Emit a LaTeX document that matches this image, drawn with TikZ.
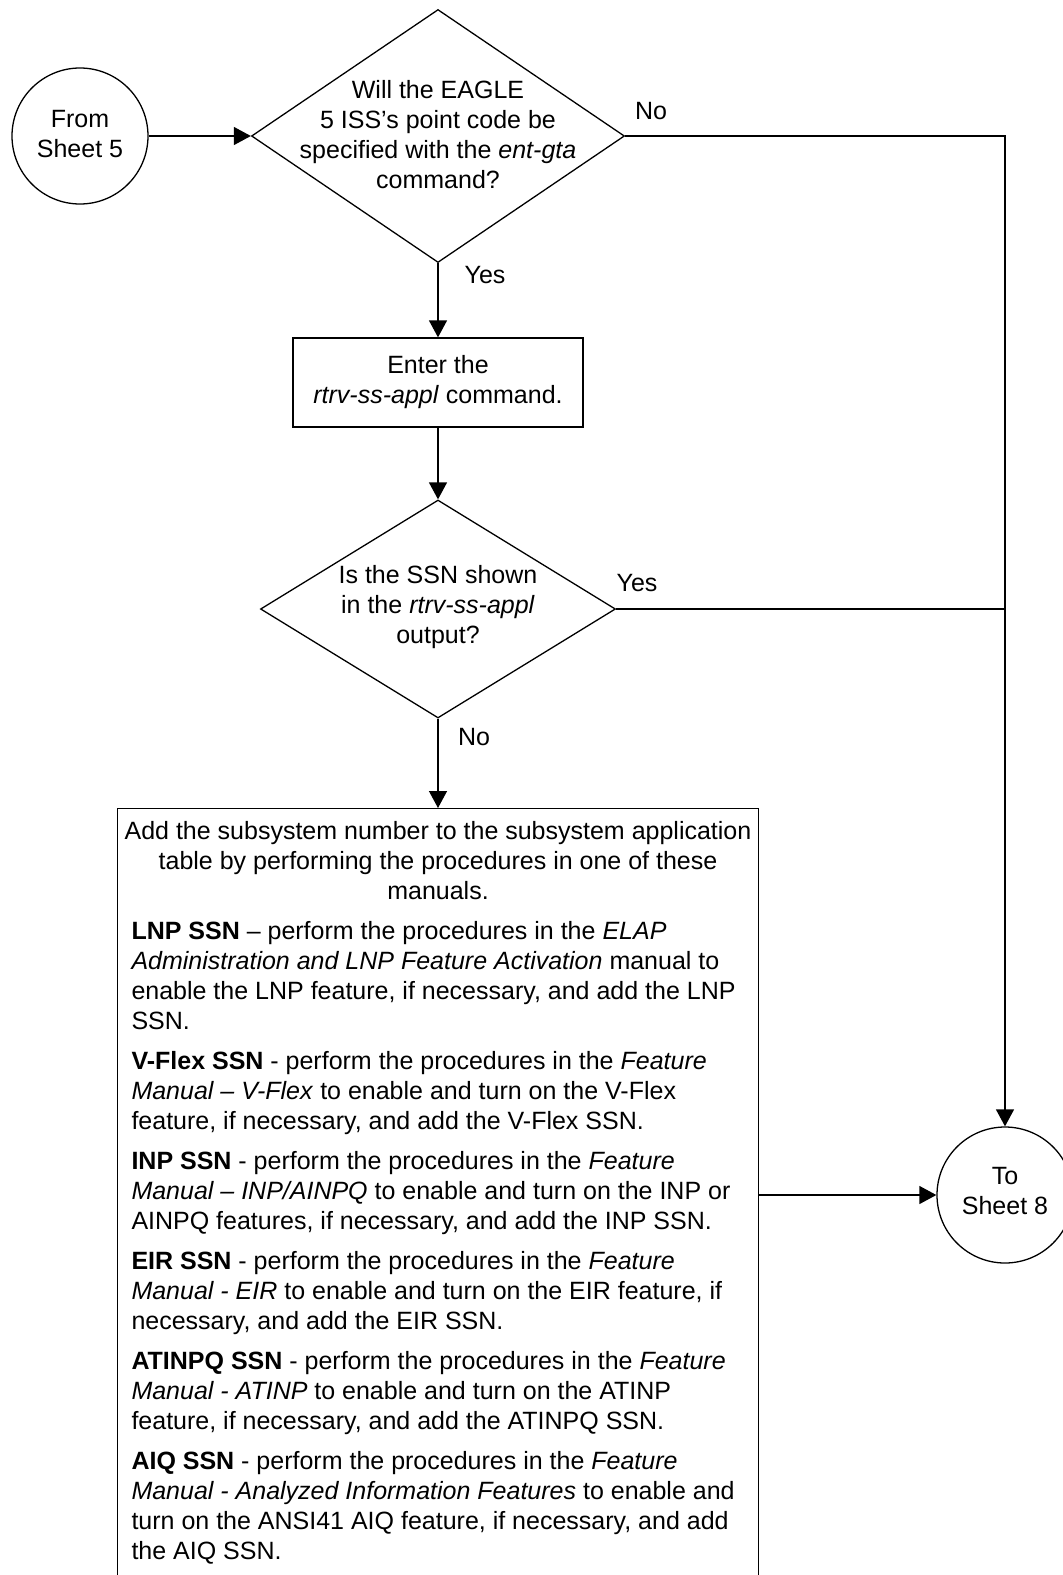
\documentclass[tikz,border=0pt]{standalone}
\usepackage{fontspec}
\setmainfont{Liberation Sans}
\usetikzlibrary{arrows.meta,shapes.geometric}
\begin{document}
\begin{tikzpicture}[x=1pt,y=-1pt,
  every node/.style={font=\fontsize{25}{30}\selectfont},
  conn/.style={draw, line width=1.3pt},
  arr/.style={conn,-{Triangle[length=17pt,width=18pt]}},
  dia/.style={draw, shape=diamond, inner sep=0pt, line width=1.3pt},
  term/.style={draw, circle, minimum size=136pt, inner sep=0pt, line width=1.3pt},
  proc/.style={draw, rectangle, inner sep=0pt, align=center, line width=1.3pt},
  txt/.style={align=center, inner sep=0pt},
  lbl/.style={inner sep=0pt}
]
\useasboundingbox (0,0) rectangle (1063,1575);

\node[term] (from) at (80,136) {};
\node[txt] (fromt) at (80,134) {From\\Sheet 5};

\node[dia, minimum width=373pt, minimum height=253pt] (d1) at (438,136) {};
\node[txt] (d1t) at (438,135) {Will the EAGLE\\5 ISS’s point code be\\specified with the \textit{ent-gta}\\command?};

\node[proc, minimum width=290pt, minimum height=89pt] (enter) at (438,382.5) {Enter the\\\textit{rtrv-ss-appl} command.};

\node[dia, minimum width=355pt, minimum height=218pt] (d2) at (438,609) {};
\node[txt] (d2t) at (438,607) {Is the SSN shown\\in the \textit{rtrv-ss-appl}\\output?};

\node[draw, line width=1.3pt, anchor=north, inner xsep=0pt, inner ysep=12.8pt] (add) at (438,808) {\parbox[t][780pt][t]{641pt}{\fontsize{25}{30}\selectfont\setlength{\parskip}{10pt}\setlength{\parindent}{0pt}%
{\centering Add the subsystem number to the subsystem application\\
table by performing the procedures in one of these\\
manuals.\par}
\raggedright\setlength{\leftskip}{14pt}%
\textbf{LNP SSN} – perform the procedures in the \textit{ELAP}\\
\textit{Administration and LNP Feature Activation} manual to\\
enable the LNP feature, if necessary, and add the LNP\\
SSN.\par
\textbf{V-Flex SSN} - perform the procedures in the \textit{Feature}\\
\textit{Manual – V-Flex} to enable and turn on the V-Flex\\
feature, if necessary, and add the V-Flex SSN.\par
\textbf{INP SSN} - perform the procedures in the \textit{Feature}\\
\textit{Manual – INP/AINPQ} to enable and turn on the INP or\\
AINPQ features, if necessary, and add the INP SSN.\par
\textbf{EIR SSN} - perform the procedures in the \textit{Feature}\\
\textit{Manual - EIR} to enable and turn on the EIR feature, if\\
necessary, and add the EIR SSN.\par
\textbf{ATINPQ SSN} - perform the procedures in the \textit{Feature}\\
\textit{Manual - ATINP} to enable and turn on the ATINP\\
feature, if necessary, and add the ATINPQ SSN.\par
\textbf{AIQ SSN} - perform the procedures in the \textit{Feature}\\
\textit{Manual - Analyzed Information Features} to enable and\\
turn on the ANSI41 AIQ feature, if necessary, and add\\
the AIQ SSN.\par}};

\node[term] (to) at (1005,1195) {};
\node[txt] (tot) at (1005,1191) {To\\Sheet 8};

\node[lbl] (no1) at (651,111) {No};
\node[lbl] (yes1) at (485,275) {Yes};
\node[lbl] (yes2) at (637,583) {Yes};
\node[lbl] (no2) at (474,737) {No};

\draw[arr] (from.east) -- (d1.west);
\draw[arr] (d1.south) -- (enter.north);
\draw[arr] (enter.south) -- (d2.north);
\draw[arr] (d2.south) -- (add.north);
\draw[arr] (d1.east) -| (to.north);
\draw[conn] (d2.east) -- (d2.east -| to.north);
\draw[arr] (to.west -| add.east) -- (to.west);
\end{tikzpicture}
\end{document}
